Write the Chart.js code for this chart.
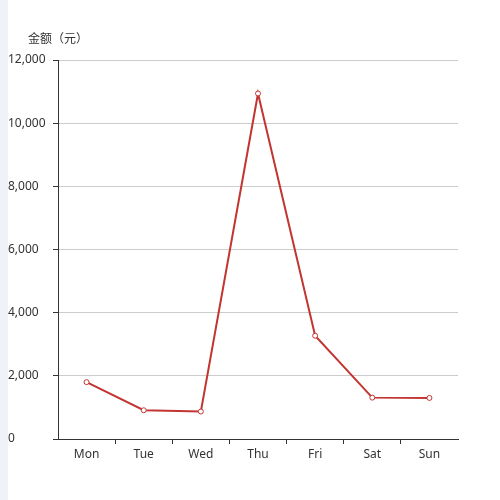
<!DOCTYPE html>
<html>
<head>
<meta charset="utf-8">
<script src="https://cdn.jsdelivr.net/npm/chart.js@4.4.0/dist/chart.umd.min.js"></script>
<style>
  html, body { margin: 0; padding: 0; background: #fff; }
  #wrap { position: relative; width: 500px; height: 500px; }
  #strip { position: absolute; left: 0; top: 0; width: 8px; height: 500px; background: #f1f1f8; }
  #c { position: absolute; left: 0; top: 0; }
</style>
</head>
<body>
<div id="wrap">
  <div id="strip"></div>
  <canvas id="c" width="500" height="500"></canvas>
</div>
<script>
// categories and values
const days = ["Mon", "Tue", "Wed", "Thu", "Fri", "Sat", "Sun"];
const amounts = [1800, 910, 870, 10940, 3270, 1310, 1300];
const yTitle = "金额（元）";
const yMax = 12000;
const yStep = 2000;

// draw the axis name above the y axis, like echarts does
const axisName = {
    id: "axisName",
    afterDraw: function(chart){
        const ctx = chart.ctx;
        const y = chart.scales.y;
        ctx.save();
        ctx.fillStyle = "#333";
        ctx.font = "12px 'Noto Sans CJK SC', sans-serif";
        ctx.textAlign = "center";
        ctx.textBaseline = "middle";
        ctx.fillText(yTitle, y.right, 38);
        ctx.restore();
    }
};

new Chart(document.getElementById("c"), {
    type: "line",
    data: {
        labels: days,
        datasets: [{
            data: amounts,
            borderColor: "#c23531",
            borderWidth: 2,
            pointRadius: 2.5,
            pointBorderWidth: 1,
            pointBackgroundColor: "#fff",
            pointBorderColor: "#c23531",
            tension: 0
        }]
    },
    options: {
        responsive: false,
        animation: false,
        layout: { padding: { left: 8, top: 60, right: 42, bottom: 0 } },
        plugins: {
            legend: { display: false },
            tooltip: { enabled: false }
        },
        scales: {
            x: {
                offset: true,
                grid: {
                    offset: true,
                    drawOnChartArea: false,
                    drawTicks: true,
                    tickLength: 5,
                    // no tick marks at the two ends of the axis
                    tickColor: function(c){
                        return (c.type !== "tick" || c.index === 0) ? "rgba(0,0,0,0)" : "#333";
                    }
                },
                border: { color: "#333", width: 1 },
                ticks: {
                    color: "#333",
                    padding: 3,
                    font: { family: "'Noto Sans', sans-serif", size: 12 }
                },
                afterFit: function(s){ s.height = 61; }
            },
            y: {
                min: 0,
                max: yMax,
                grid: {
                    color: "#ccc",
                    drawTicks: true,
                    tickLength: 5,
                    tickColor: "#333"
                },
                border: { color: "#333", width: 1 },
                ticks: {
                    stepSize: yStep,
                    color: "#333",
                    crossAlign: "far",
                    font: { family: "'Noto Sans', sans-serif", size: 12 },
                    callback: function(v){ return v.toLocaleString("en-US"); }
                },
                afterFit: function(s){ s.width = 50; }
            }
        }
    },
    plugins: [axisName]
});
</script>
</body>
</html>
